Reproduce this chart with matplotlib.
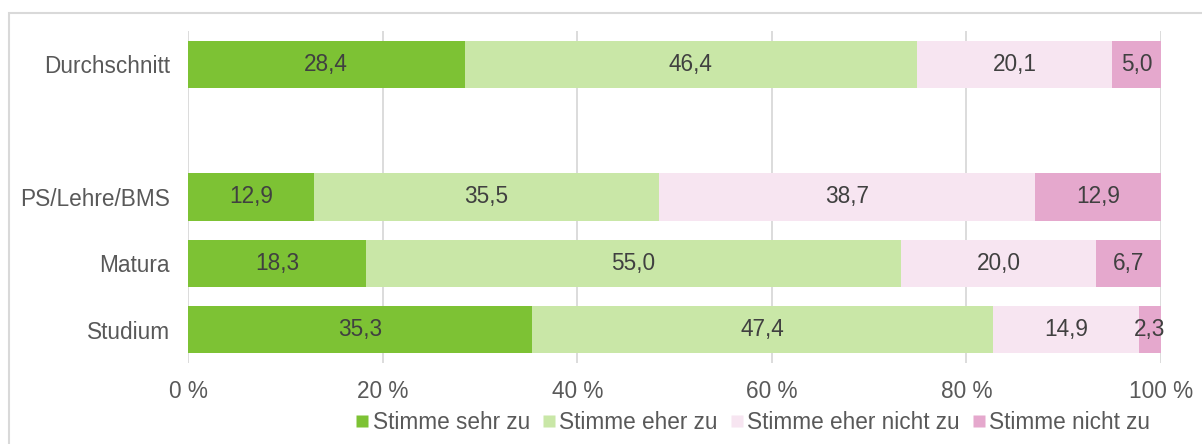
import matplotlib
matplotlib.use('Agg')
import matplotlib.pyplot as plt
from matplotlib.patches import Rectangle
from matplotlib.lines import Line2D
import numpy as np

plt.rcParams['font.family'] = ['Liberation Sans', 'DejaVu Sans']

categories = ['Durchschnitt', 'PS/Lehre/BMS', 'Matura', 'Studium']
positions = [4, 2, 1, 0]
series_names = ['Stimme sehr zu', 'Stimme eher zu', 'Stimme eher nicht zu', 'Stimme nicht zu']
sehr_zu = [28.4, 12.9, 18.3, 35.3]
eher_zu = [46.4, 35.5, 55.0, 47.4]
eher_nicht_zu = [20.1, 38.7, 20.0, 14.9]
nicht_zu = [5.0, 12.9, 6.7, 2.3]
colors = ['#7dc234', '#c9e7a7', '#f7e5f1', '#e5a8cd']
xticks = [0, 20, 40, 60, 80, 100]
xtick_labels = ['0 %', '20 %', '40 %', '60 %', '80 %', '100 %']

W, H = 1202, 444
fs = 16.3
fig = plt.figure(figsize=(W / 100, H / 100), dpi=100)
ax = fig.add_axes([188 / W, 1 - 363 / H, (1161 - 188) / W, (363 - 31) / H])

data = np.array([sehr_zu, eher_zu, eher_nicht_zu, nicht_zu])
totals = data.sum(axis=0)
norm = data / totals * 100

left = np.zeros(len(categories))
for i, name in enumerate(series_names):
    ax.barh(positions, norm[i], left=left, height=0.71, color=colors[i],
            label=name, zorder=3, edgecolor='none')
    for j in range(len(categories)):
        ax.text(left[j] + norm[i][j] / 2, positions[j],
                f"{data[i][j]:.1f}".replace('.', ','),
                ha='center', va='center', fontsize=fs, color='#404040', zorder=4)
    left += norm[i]

ax.set_xlim(0, 100)
ax.set_ylim(-0.5, 4.5)
ax.set_xticks(xticks)
ax.set_xticklabels(xtick_labels)
ax.set_yticks(positions)
ax.set_yticklabels(categories)
ax.tick_params(axis='both', length=0, labelsize=fs, labelcolor='#595959')
ax.tick_params(axis='y', pad=13)
ax.tick_params(axis='x', pad=12)
for s in ax.spines.values():
    s.set_visible(False)
ax.grid(axis='x', color='#dcdcdc', linewidth=1.4, zorder=0)
ax.grid(axis='y', visible=False)
ax.set_axisbelow(True)

handles = [Line2D([0], [0], marker='s', linestyle='none', markersize=9,
                  markerfacecolor=c, markeredgecolor='none') for c in colors]
leg = fig.legend(handles, series_names, loc='center', bbox_to_anchor=(753 / W, 1 - 422 / H),
                 ncol=4, frameon=False, fontsize=fs, handlelength=0.6,
                 handletextpad=0.15, columnspacing=0.55, borderpad=0)
for t in leg.get_texts():
    t.set_color('#595959')

# chart area frame
fig.patches.append(Rectangle((9 / W, -0.1), 1.2, 1 - 13 / H + 0.1, transform=fig.transFigure,
                             fill=False, edgecolor='#d9d9d9', linewidth=1.5, zorder=0))

fig.savefig('out.png', dpi=100)
